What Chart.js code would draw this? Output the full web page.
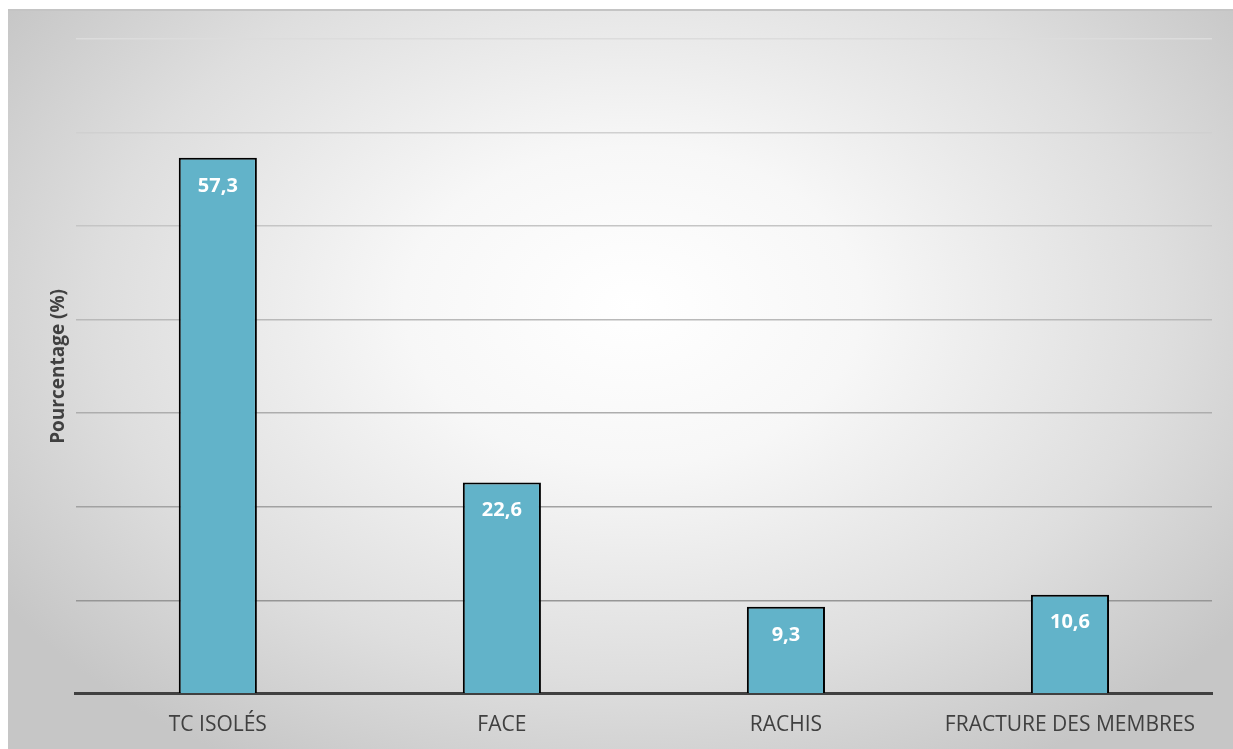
<!DOCTYPE html>
<html>
<head>
<meta charset="utf-8">
<script src="https://cdn.jsdelivr.net/npm/chart.js@4.4.1/dist/chart.umd.min.js"></script>
<style>
  html, body { margin: 0; padding: 0; background: #fff; }
  #panel {
    position: absolute; left: 8px; top: 9px; width: 1225px; height: 740px;
    border-top: 2px solid #c4c4c4; box-sizing: border-box;
    background: radial-gradient(ellipse 62% 72% at 51% 40%, #ffffff 0%, #f7f7f7 30%, #dedede 70%, #c6c6c6 100%);
  }
</style>
</head>
<body>
<div id="panel"><canvas id="injuryChart"></canvas></div>
<script>
const categories = ['TC ISOLÉS', 'FACE', 'RACHIS', 'FRACTURE DES MEMBRES'];
const percentages = [57.3, 22.6, 9.3, 10.6];
const yMin = 0, yMax = 70, yStep = 10;

const FONT = "'Open Sans', sans-serif";

// writes each value inside the top of its bar, with a decimal comma
const barValueLabels = {
  id: 'barValueLabels',
  afterDatasetsDraw(chart) {
    const ctx = chart.ctx;
    const meta = chart.getDatasetMeta(0);
    ctx.save();
    ctx.fillStyle = '#ffffff';
    ctx.font = "bold 20px " + FONT;
    ctx.textAlign = 'center';
    ctx.textBaseline = 'middle';
    meta.data.forEach((bar, i) => {
      const txt = percentages[i].toFixed(1).replace('.', ',');
      ctx.fillText(txt, bar.x, bar.y + 28);
    });
    ctx.restore();
  }
};

// gridlines fade from mid grey near the base to light grey at the top
const gridShade = (c) => {
  const v = c.tick ? c.tick.value : 0;
  const g = Math.round(150 + (v - yStep) / (yMax - yStep) * 70);
  return `rgb(${g},${g},${g})`;
};

new Chart(document.getElementById('injuryChart'), {
  type: 'bar',
  data: {
    labels: categories,
    datasets: [{
      data: percentages,
      backgroundColor: '#62b3c9',
      borderColor: '#000000',
      borderWidth: 2,
      categoryPercentage: 1,
      barPercentage: 0.275
    }]
  },
  options: {
    responsive: true,
    maintainAspectRatio: false,
    animation: false,
    layout: { padding: { top: 28, right: 21, left: 39, bottom: 0 } },
    plugins: {
      legend: { display: false },
      tooltip: { enabled: false }
    },
    scales: {
      x: {
        grid: { display: false },
        border: { display: true, color: '#404040', width: 3 },
        ticks: { color: '#404040', font: { family: FONT, size: 21 }, padding: 11 }
      },
      y: {
        min: yMin,
        max: yMax,
        ticks: { display: false, stepSize: yStep },
        grid: { color: gridShade, lineWidth: 1.5, drawTicks: false },
        border: { display: false },
        title: {
          display: true,
          text: 'Pourcentage (%)',
          color: '#404040',
          font: { family: FONT, size: 19, weight: 'bold' },
          padding: { top: 0, bottom: 6 }
        }
      }
    }
  },
  plugins: [barValueLabels]
});
</script>
</body>
</html>
